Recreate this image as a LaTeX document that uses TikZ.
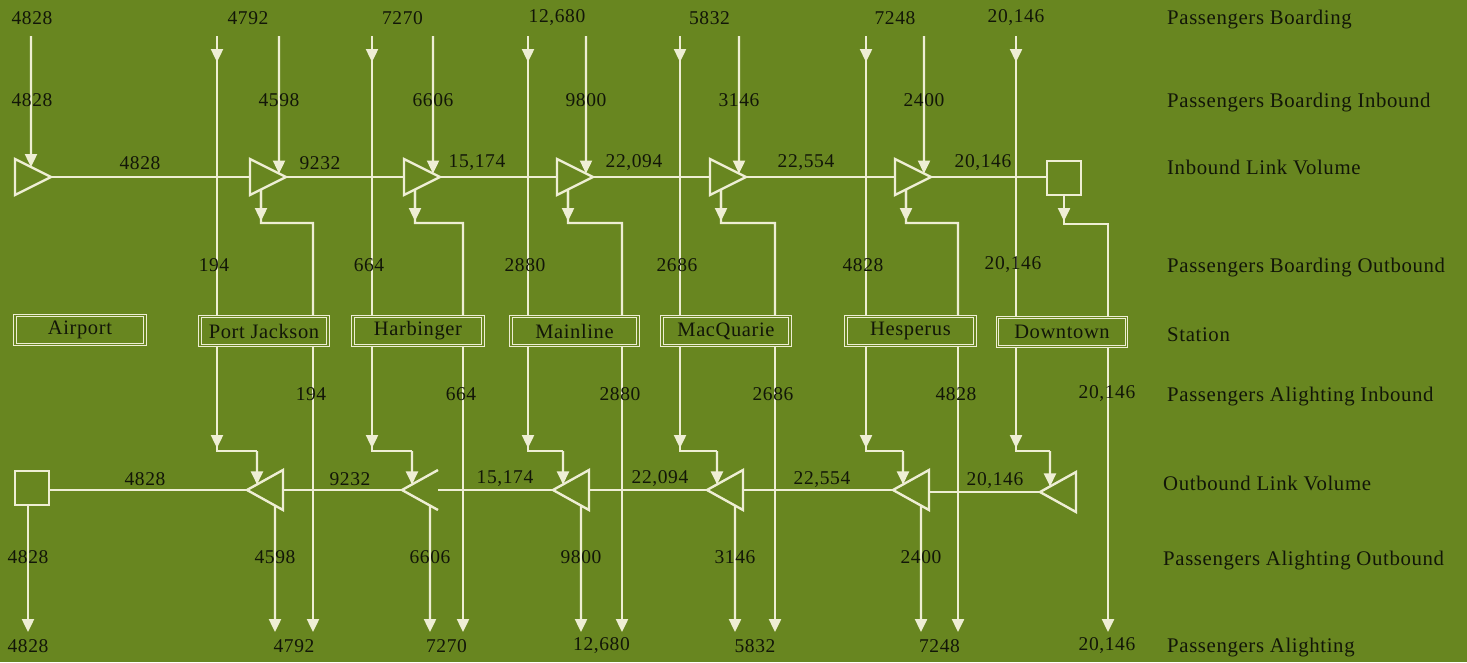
\documentclass[tikz,border=0pt]{standalone}
\usepackage{fontspec}
\setmainfont{Liberation Serif}[LetterSpace=3]
\usetikzlibrary{arrows.meta,calc}
\definecolor{bg}{RGB}{104,134,32}
\definecolor{ln}{RGB}{238,238,212}
\definecolor{tx}{RGB}{18,22,8}
\begin{document}
\begin{tikzpicture}[x=1pt,y=-1pt,
  wire/.style={draw=ln,line width=2.4pt,line join=miter},
  arr/.style={draw=ln,line width=2.4pt,-{Triangle[width=12pt,length=13pt]}},
  num/.style={text=tx,font=\fontsize{19.5}{20}\selectfont,inner sep=0pt},
  lab/.style={text=tx,font=\fontsize{20.8}{22}\selectfont,anchor=west,inner sep=0pt},
  stat/.style={draw=ln,line width=1.1pt,double=bg,double distance=1.3pt,minimum height=29pt,text=tx,font=\fontsize{20.5}{22}\selectfont,inner sep=0pt},
  term/.style={draw=ln,line width=2.4pt,minimum size=34pt,inner sep=0pt}]
\fill[bg] (0,0) rectangle (1467,662);
\useasboundingbox (0,0) rectangle (1467,662);

% ---------- regular stations ----------
\foreach \n/\xl/\tin/\xs/\bl/\br/\tout/\topn/\inn/\obn/\name in {
  PJ/217/250/313/200/328/247/4792/4598/194/Port Jackson,
  HB/372/404/463/353/483/402/7270/6606/664/Harbinger,
  ML/528/557/622/511/638/553/12{,}680/9800/2880/Mainline,
  MQ/680/710/775/662/790/707/5832/3146/2686/MacQuarie,
  HS/866/895/958/846/975/893/7248/2400/4828/Hesperus}{
  \pgfmathsetmacro\bw{\br-\bl}
  \node[stat,minimum width=\bw pt] (\n) at ({(\bl+\br)/2},331) {\name};
  % inbound triangle
  \coordinate (\n-i1) at (\tin,159);
  \coordinate (\n-i2) at (\tin,195);
  \coordinate (\n-ib) at (\tin,177);
  \coordinate (\n-it) at ({\tin+36},177);
  \draw[wire] (\n-i1) -- (\n-it) -- (\n-i2) -- cycle;
  % outbound triangle points
  \coordinate (\n-ot) at (\tout,490);
  \coordinate (\n-o1) at ({\tout+36},470);
  \coordinate (\n-o2) at ({\tout+36},510);
  \coordinate (\n-ob) at ({\tout+36},490);
  % boarding outbound (left line)
  \coordinate (\n-tl) at (\xl,36);
  \coordinate (\n-la) at (\xl,62);
  \draw[wire] (\n-tl) -- (\n.north -| \n-tl);
  \draw[arr] (\n-tl) -- (\n-la);
  % boarding inbound
  \coordinate (\n-tr) at ({\tin+29},36);
  \draw[arr] (\n-tr) -- ($(\n-i1)!29/36!(\n-it)$);
  % alighting inbound
  \coordinate (\n-ds) at ($(\n-i2)!11/36!(\n-it)$);
  \coordinate (\n-da) at ({\tin+11},221);
  \coordinate (\n-dc) at ({\tin+11},223);
  \coordinate (\n-sx) at (\xs,223);
  \draw[arr] (\n-ds) -- (\n-da);
  \draw[wire] (\n-ds) -- (\n-dc) -- (\n-sx) -- (\n.north -| \n-sx);
  % below station: boarding outbound to outbound triangle
  \coordinate (\n-lb) at (\xl,448);
  \coordinate (\n-lc) at (\xl,451);
  \coordinate (\n-ld) at ({\tout+10},451);
  \draw[arr] (\n.south -| \n-tl) -- (\n-lb);
  \draw[wire] (\n.south -| \n-tl) -- (\n-lc) -- (\n-ld);
  \draw[arr] (\n-ld) -- ($(\n-ot)!10/36!(\n-o1)$);
  % alighting (station)
  \coordinate (\n-sb) at (\xs,632);
  \draw[arr] (\n.south -| \n-sx) -- (\n-sb);
  % alighting outbound
  \coordinate (\n-ab) at ({\tout+28},632);
  \draw[arr] ($(\n-ot)!28/36!(\n-o2)$) -- (\n-ab);
  % labels
  \node[num] at ({(\xl+\tin+29)/2},18) {\topn};
  \node[num] at ({\tin+29},100) {\inn};
  \node[num] at ({\xl-3},265) {\obn};
  \node[num] at ({\xs-2},394) {\obn};
  \node[num] at ({\tout+28},557) {\inn};
  \node[num] at ({(\tout+28+\xs)/2},646) {\topn};
}

% ---------- Airport ----------
\node[stat,minimum width=130pt] (AP) at (80,330) {Airport};
\coordinate (AP-i1) at (15,159);
\coordinate (AP-i2) at (15,195);
\coordinate (AP-it) at (51,177);
\draw[wire] (AP-i1) -- (AP-it) -- (AP-i2) -- cycle;
\coordinate (AP-tr) at (31,36);
\draw[arr] (AP-tr) -- ($(AP-i1)!16/36!(AP-it)$);
\node[term] (APs) at (32,488) {};
\coordinate (AP-sx) at (28,600);
\coordinate (AP-sb) at (28,632);
\draw[arr] (APs.south -| AP-sx) -- (AP-sb);
\node[num] at (32,18) {4828};
\node[num] at (32,100) {4828};
\node[num] at (28,557) {4828};
\node[num] at (28,646) {4828};

% ---------- Downtown ----------
\node[stat,minimum width=129pt] (DT) at (1062,332) {Downtown};
\node[term] (DTs) at (1064,178) {};
\coordinate (DT-tl) at (1016,36);
\coordinate (DT-la) at (1016,62);
\draw[wire] (DT-tl) -- (DT.north -| DT-tl);
\draw[arr] (DT-tl) -- (DT-la);
\coordinate (DT-da) at (1064,221);
\coordinate (DT-dc) at (1064,224);
\coordinate (DT-sx) at (1108,224);
\draw[arr] (DTs.south) -- (DT-da);
\draw[wire] (DTs.south) -- (DT-dc) -- (DT-sx) -- (DT.north -| DT-sx);
\coordinate (DT-ot) at (1040,492);
\coordinate (DT-o1) at (1076,472);
\coordinate (DT-o2) at (1076,512);
\coordinate (DT-lb) at (1016,448);
\coordinate (DT-lc) at (1016,451);
\coordinate (DT-ld) at (1050,451);
\draw[arr] (DT.south -| DT-tl) -- (DT-lb);
\draw[wire] (DT.south -| DT-tl) -- (DT-lc) -- (DT-ld);
\draw[arr] (DT-ld) -- ($(DT-ot)!10/36!(DT-o1)$);
\coordinate (DT-sb) at (1108,632);
\draw[arr] (DT.south -| DT-sx) -- (DT-sb);
\node[num] at (1016,18) {20,146};
\node[num] at (1013,265) {20,146};
\node[num] at (1107,394) {20,146};
\node[num] at (1107,646) {20,146};

% ---------- outbound triangles ----------
\foreach \n in {PJ,ML,MQ,HS,DT}
  \draw[wire] (\n-o1) -- (\n-ot) -- (\n-o2) -- cycle;
\draw[wire] (HB-o1) -- (HB-ot) -- (HB-o2);

% ---------- link lines ----------
\draw[wire] (AP-it) -- (PJ-ib);
\draw[wire] (PJ-it) -- (HB-ib);
\draw[wire] (HB-it) -- (ML-ib);
\draw[wire] (ML-it) -- (MQ-ib);
\draw[wire] (MQ-it) -- (HS-ib);
\draw[wire] (HS-it) -- (DTs.west |- HS-it);
\draw[wire] (DT-ot) -- (HS-ob |- DT-ot);
\draw[wire] (HS-ot) -- (MQ-ob);
\draw[wire] (MQ-ot) -- (ML-ob);
\draw[wire] (ML-ot) -- (HB-ob);
\draw[wire] (HB-ot) -- (PJ-ob);
\draw[wire] (PJ-ot) -- (APs.east |- PJ-ot);

% link labels
\node[num] at (140,163) {4828};
\node[num] at (320,163) {9232};
\node[num] at (477,163) {15,174};
\node[num] at (634,163) {22,094};
\node[num] at (806,163) {22,554};
\node[num] at (983,163) {20,146};
\node[num] at (145,479) {4828};
\node[num] at (350,479) {9232};
\node[num] at (505,479) {15,174};
\node[num] at (660,479) {22,094};
\node[num] at (822,480) {22,554};
\node[num] at (995,481) {20,146};

% ---------- row legend ----------
\node[lab] at (1167,20) {Passengers Boarding};
\node[lab] at (1167,103) {Passengers Boarding Inbound};
\node[lab] at (1167,167) {Inbound Link Volume};
\node[lab] at (1167,268) {Passengers Boarding Outbound};
\node[lab] at (1167,335) {Station};
\node[lab] at (1167,397) {Passengers Alighting Inbound};
\node[lab] at (1163,483) {Outbound Link Volume};
\node[lab] at (1163,561) {Passengers Alighting Outbound};
\node[lab] at (1167,648) {Passengers Alighting};
\end{tikzpicture}
\end{document}
